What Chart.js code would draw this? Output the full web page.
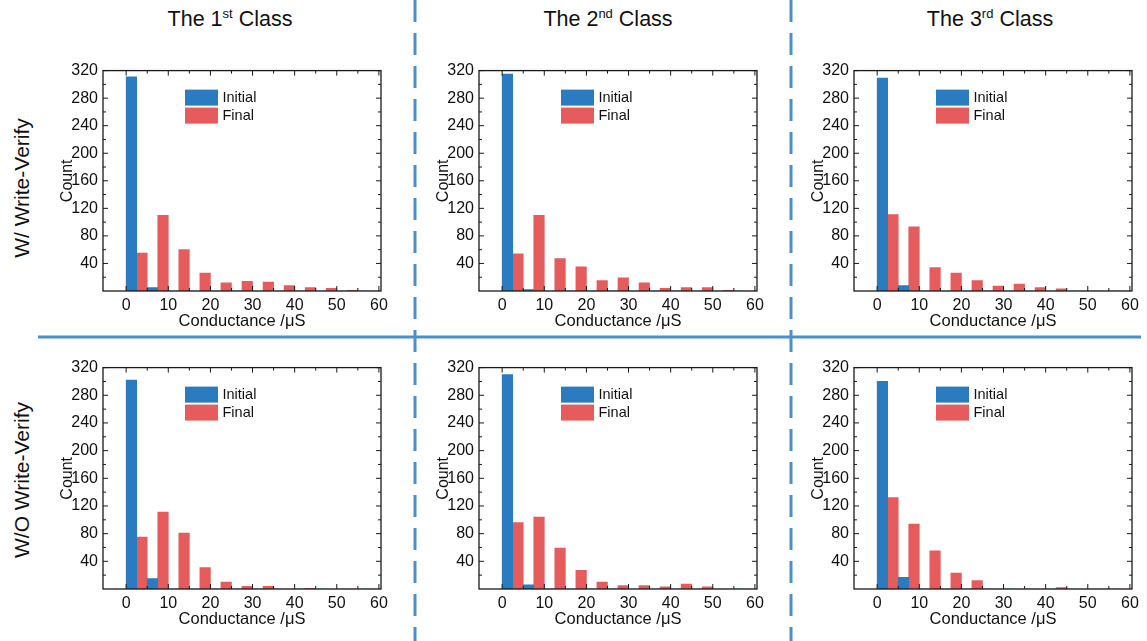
<!DOCTYPE html>
<html>
<head>
<meta charset="utf-8">
<script src="https://cdn.jsdelivr.net/npm/chart.js@4.4.1/dist/chart.umd.min.js"></script>
<style>
  body { margin: 0; background: #fff; width: 1147px; height: 641px; overflow: hidden; position: relative;
         font-family: "Liberation Sans", Arial, sans-serif; color: #111; }
  canvas { position: absolute; }
  .col { position: absolute; top: 7px; font-size: 21.5px; transform: translateX(-50%); white-space: nowrap; }
  .col sup { font-size: 13px; vertical-align: top; position: relative; top: -1px; }
  .row { position: absolute; font-size: 21px; transform: translate(-50%, -50%) rotate(-90deg); white-space: nowrap; }
  svg.sep { position: absolute; left: 0; top: 0; }
</style>
</head>
<body>
<svg class="sep" width="1147" height="641">
  <line x1="415" y1="0" x2="415" y2="641" stroke="#4A90D0" stroke-width="3" stroke-dasharray="22 11"/>
  <line x1="791" y1="0" x2="791" y2="641" stroke="#4A90D0" stroke-width="3" stroke-dasharray="22 11"/>
  <line x1="38" y1="337" x2="1141" y2="337" stroke="#4A90D0" stroke-width="3"/>
</svg>

<div class="col" style="left:230px">The 1<sup>st</sup> Class</div>
<div class="col" style="left:608px">The 2<sup>nd</sup> Class</div>
<div class="col" style="left:990px">The 3<sup>rd</sup> Class</div>
<div class="row" style="left:22px; top:188px">W/ Write-Verify</div>
<div class="row" style="left:22px; top:480px">W/O Write-Verify</div>

<canvas id="c1" width="350" height="280"></canvas>
<canvas id="c2" width="350" height="280"></canvas>
<canvas id="c3" width="350" height="280"></canvas>
<canvas id="c4" width="350" height="281"></canvas>
<canvas id="c5" width="350" height="281"></canvas>
<canvas id="c6" width="350" height="281"></canvas>

<script>
// Histogram bins: 5 µS wide, starting at 0; values are bin centres
const binCenters = [2.5, 7.5, 12.5, 17.5, 22.5, 27.5, 32.5, 37.5, 42.5, 47.5, 52.5, 57.5];

// With write-verify
const initialW1 = [311, 5, 0, 0, 0, 0, 0, 0, 0, 0, 0, 0];
const finalW1   = [55, 110, 60, 26, 12, 14, 13, 8, 5, 4, 1, 0];
const initialW2 = [315, 2, 0, 0, 0, 0, 0, 0, 0, 0, 0, 0];
const finalW2   = [54, 110, 47, 35, 15, 19, 12, 4, 5, 5, 1, 0];
const initialW3 = [309, 8, 0, 0, 0, 0, 0, 0, 0, 0, 0, 0];
const finalW3   = [111, 93, 34, 26, 15, 7, 10, 5, 3, 0, 0, 0];

// Without write-verify
const initialO1 = [302, 15, 0, 0, 0, 0, 0, 0, 0, 0, 0, 0];
const finalO1   = [75, 111, 81, 31, 10, 4, 4, 0, 1, 0, 0, 0];
const initialO2 = [310, 6, 0, 0, 0, 0, 0, 0, 0, 0, 0, 0];
const finalO2   = [96, 104, 59, 27, 10, 5, 5, 3, 7, 3, 0, 0];
const initialO3 = [300, 17, 0, 0, 0, 0, 0, 0, 0, 0, 0, 0];
const finalO3   = [132, 94, 55, 23, 12, 0, 0, 0, 2, 0, 0, 0];

// Axis ticks
const xTickLabels = [0, 10, 20, 30, 40, 50, 60];
const xMinorTicks = [5, 15, 25, 35, 45, 55];
const yTickLabels = [40, 80, 120, 160, 200, 240, 280, 320];
const yMinorTicks = [20, 60, 100, 140, 180, 220, 260, 300];

const seriesNames = ['Initial', 'Final'];
const BLUE = '#2B7BC0';
const RED = '#E65C5C';
const FONT = '"Liberation Sans", Arial, sans-serif';

// Closed frame with inward ticks on all four sides
const frameTicks = {
  id: 'frameTicks',
  afterDatasetsDraw(chart) {
    const { ctx, chartArea: a, scales: { x, y } } = chart;
    ctx.save();
    ctx.strokeStyle = '#1a1a1a';
    ctx.lineWidth = 1.3;
    ctx.strokeRect(a.left, a.top, a.right - a.left, a.bottom - a.top);
    ctx.lineWidth = 1;
    const seg = (x1, y1, x2, y2) => { ctx.beginPath(); ctx.moveTo(x1, y1); ctx.lineTo(x2, y2); ctx.stroke(); };
    const xt = (v, len) => { const p = x.getPixelForValue(v); seg(p, a.bottom, p, a.bottom - len); seg(p, a.top, p, a.top + len); };
    const yt = (v, len) => { const p = y.getPixelForValue(v); seg(a.left, p, a.left + len, p); seg(a.right, p, a.right - len, p); };
    xTickLabels.forEach(v => xt(v, 5));
    xMinorTicks.forEach(v => xt(v, 3));
    yTickLabels.forEach(v => yt(v, 5));
    yMinorTicks.forEach(v => yt(v, 3));
    ctx.restore();
  }
};

// Legend drawn inside the plot area
const innerLegend = {
  id: 'innerLegend',
  afterDatasetsDraw(chart) {
    const { ctx, chartArea: a } = chart;
    const x0 = a.left + 82, y0 = a.top + 19;
    ctx.save();
    ctx.font = '14.5px ' + FONT;
    ctx.textBaseline = 'middle';
    chart.data.datasets.forEach((ds, i) => {
      const yy = y0 + i * 18;
      ctx.fillStyle = ds.backgroundColor;
      ctx.fillRect(x0, yy, 33, 16);
      ctx.fillStyle = '#111';
      ctx.fillText(ds.label, x0 + 37.5, yy + 8.5);
    });
    ctx.restore();
  }
};

function makeChart(id, left, top, initial, final) {
  const el = document.getElementById(id);
  el.style.left = (left - 60) + 'px';
  el.style.top = (top - 12) + 'px';
  new Chart(el, {
    type: 'bar',
    data: {
      datasets: [
        { label: seriesNames[0], data: binCenters.map((c, i) => ({ x: c, y: initial[i] })), backgroundColor: BLUE },
        { label: seriesNames[1], data: binCenters.map((c, i) => ({ x: c, y: final[i] })), backgroundColor: RED }
      ]
    },
    options: {
      responsive: false,
      animation: false,
      events: [],
      layout: { padding: { left: 0, top: 12, right: 12, bottom: 0 } },
      categoryPercentage: 1,
      barPercentage: 1,
      plugins: { legend: { display: false }, tooltip: { enabled: false } },
      scales: {
        x: {
          type: 'linear',
          offset: false,
          min: -5.5, max: 60.5,
          grid: { display: false, drawTicks: false },
          border: { display: false },
          afterBuildTicks: s => { s.ticks = xTickLabels.map(v => ({ value: v })); },
          afterFit: s => { s.height = 45; },
          ticks: { color: '#111', padding: 5, font: { family: FONT, size: 16 }, maxRotation: 0 },
          title: { display: true, text: 'Conductance /\u03BCS', color: '#111',
                   font: { family: FONT, size: 16.5 }, padding: { top: 0, bottom: 4.6 } }
        },
        y: {
          min: 0, max: 320,
          grid: { display: false, drawTicks: false },
          border: { display: false },
          afterBuildTicks: s => { s.ticks = yTickLabels.map(v => ({ value: v })); },
          afterFit: s => { s.width = 60; },
          ticks: { color: '#111', padding: 5, font: { family: FONT, size: 16 } },
          title: { display: true, text: 'Count', color: '#111',
                   font: { family: FONT, size: 16 }, padding: { top: 15.4, bottom: 0 } }
        }
      }
    },
    plugins: [frameTicks, innerLegend]
  });
}

makeChart('c1', 103, 68, initialW1, finalW1);
makeChart('c2', 479, 68, initialW2, finalW2);
makeChart('c3', 854, 68, initialW3, finalW3);
makeChart('c4', 103, 365, initialO1, finalO1);
makeChart('c5', 479, 365, initialO2, finalO2);
makeChart('c6', 854, 365, initialO3, finalO3);
</script>
</body>
</html>
